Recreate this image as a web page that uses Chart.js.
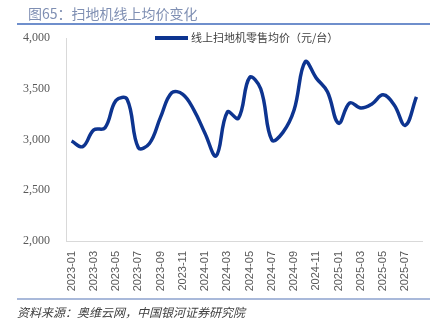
<!DOCTYPE html>
<html lang="zh-CN">
<head>
<meta charset="UTF-8">
<title>扫地机线上均价变化</title>
<script src="https://cdn.jsdelivr.net/npm/chart.js@4.4.1/dist/chart.umd.min.js"></script>
<style>
    html, body { margin: 0; padding: 0; background: #ffffff; }
    #wrap { position: relative; width: 442px; height: 331px; overflow: hidden;
            font-family: "Noto Sans CJK SC", "Noto Sans", sans-serif; }
    #chart_canvas { position: absolute; left: 0; top: 0; }
    .title { position: absolute; left: 28px; top: 3px; font-size: 14px; color: #7f8fb3; white-space: nowrap; }
    .rule_top { position: absolute; left: 17px; top: 23px; width: 413px; height: 1.5px; background: #6f8fcc; }
    .rule_bottom { position: absolute; left: 17px; top: 298px; width: 413px; height: 2px; background: #a9b9da; }
    .legend { position: absolute; left: 155px; top: 29px; font-size: 11px; color: #404040; white-space: nowrap; }
    .legend span.swatch { display: inline-block; width: 33px; height: 4px; background: #0d3490;
                          vertical-align: middle; margin-right: 3px; position: relative; top: -1px; }
    .source { position: absolute; left: 17px; top: 303px; font-size: 12px; font-style: italic; color: #404040; white-space: nowrap; }
</style>
</head>
<body>
<div id="wrap">
    <canvas id="chart_canvas" width="442" height="331"></canvas>
    <div class="title">图65：扫地机线上均价变化</div>
    <div class="rule_top"></div>
    <div class="legend"><span class="swatch"></span>线上扫地机零售均价（元/台）</div>
    <div class="rule_bottom"></div>
    <div class="source">资料来源：奥维云网，中国银河证券研究院</div>
</div>

<script>
    // months 2023-01 .. 2025-08
    var months = [
        "2023-01", "2023-02", "2023-03", "2023-04", "2023-05", "2023-06",
        "2023-07", "2023-08", "2023-09", "2023-10", "2023-11", "2023-12",
        "2024-01", "2024-02", "2024-03", "2024-04", "2024-05", "2024-06",
        "2024-07", "2024-08", "2024-09", "2024-10", "2024-11", "2024-12",
        "2025-01", "2025-02", "2025-03", "2025-04", "2025-05", "2025-06",
        "2025-07", "2025-08"
    ];

    // 线上扫地机零售均价（元/台）
    var avg_price = [
        2985, 2930, 3095, 3115, 3385, 3395,
        2920, 2960, 3220, 3460, 3445, 3290,
        3060, 2840, 3270, 3210, 3610, 3500,
        2995, 3070, 3290, 3765, 3605, 3470,
        3160, 3360, 3310, 3350, 3440, 3340,
        3140, 3420
    ];

    var y_ticks = [2000, 2500, 3000, 3500, 4000];

    var axis_grey = "#d9d9d9";
    var tick_grey = "#595959";

    window._chart = new Chart(
        document.getElementById("chart_canvas"), {
            type: "line",
            data: {
                labels: months,
                datasets: [
                    {
                        label: "线上扫地机零售均价（元/台）",
                        data: avg_price,
                        borderColor: "#0d3490",
                        backgroundColor: "#0d3490",
                        borderWidth: 3.5,
                        pointRadius: 0,
                        tension: 0.4,
                        fill: false
                    }
                ]
            },
            options: {
                responsive: false,
                animation: false,
                layout: {
                    padding: { left: 0, right: 20, top: 38, bottom: 0 }
                },
                plugins: {
                    legend: { display: false },
                    tooltip: { enabled: false }
                },
                scales: {
                    x: {
                        offset: true,
                        grid: { display: false, drawTicks: false },
                        border: { display: true, color: axis_grey, width: 1 },
                        ticks: {
                            autoSkip: false,
                            minRotation: 90,
                            maxRotation: 90,
                            padding: 10,
                            color: tick_grey,
                            font: { family: "Liberation Sans", size: 11 },
                            callback: function (value, index) {
                                return index % 2 === 0 ? months[index] : "";
                            }
                        },
                        afterFit: function (scale) { scale.height = 90; }
                    },
                    y: {
                        min: 2000,
                        max: 4000,
                        grid: { display: false, drawTicks: false },
                        border: { display: true, color: axis_grey, width: 1 },
                        afterBuildTicks: function (scale) {
                            scale.ticks = y_ticks.map(function (v) { return { value: v }; });
                        },
                        ticks: {
                            padding: 16,
                            color: tick_grey,
                            font: { family: "Liberation Serif", size: 12 },
                            callback: function (value) {
                                return value.toLocaleString("en-US");
                            }
                        },
                        afterFit: function (scale) { scale.width = 66; }
                    }
                }
            }
        }
    );
</script>
</body>
</html>
